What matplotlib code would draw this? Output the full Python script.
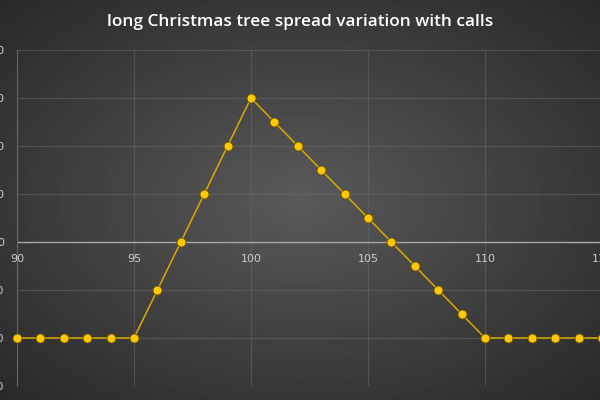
import numpy as np
import matplotlib.pyplot as plt

# underlying price at expiry
prices = [90, 91, 92, 93, 94, 95, 96, 97, 98, 99, 100, 101, 102,
          103, 104, 105, 106, 107, 108, 109, 110, 111, 112, 113, 114, 115]
# payoff of the spread
payoff = [-200, -200, -200, -200, -200, -200, -100, 0, 100, 200, 300, 250, 200,
          150, 100, 50, 0, -50, -100, -150, -200, -200, -200, -200, -200, -200]

x_ticks = [90, 95, 100, 105, 110, 115]
y_ticks = [-300, -200, -100, 0, 100, 200, 300, 400]

fig = plt.figure(figsize=(6, 4), dpi=100)

# radial gradient background
bg = fig.add_axes([0, 0, 1, 1])
gx, gy = np.meshgrid(np.linspace(-1, 1, 300), np.linspace(-1, 1, 200))
r = np.sqrt(gx**2 + gy**2) / np.sqrt(2)
bg.imshow(0.35 - 0.19 * r, cmap='gray', vmin=0, vmax=1, aspect='auto', extent=[0, 1, 0, 1])
bg.axis('off')

ax = fig.add_axes([17/600, 14/400, 585/600, 336/400])
ax.patch.set_alpha(0)
ax.plot(prices, payoff, color='#d8aa00', lw=1.1, marker='o', ms=6.5,
        mfc='#ffc800', mec='#6b5510', mew=0.7, zorder=3, clip_on=False)

ax.set_xlim(90, 115)
ax.set_ylim(-300, 400)
ax.set_xticks(x_ticks)
ax.set_yticks(y_ticks)
ax.grid(True, color='#707070', lw=0.8, alpha=0.45)
ax.axhline(0, color='#a8a8a8', lw=1.0, zorder=2)

for s in ['top', 'right', 'bottom']:
    ax.spines[s].set_visible(False)
ax.spines['left'].set_color('#666666')

ax.tick_params(length=0, colors='#cccccc', labelsize=8)
ax.tick_params(axis='y', pad=9)
# x labels sit just below the zero line
ax.set_xticklabels([])
for xv in x_ticks:
    ax.annotate(str(xv), (xv, 0), xytext=(0, -9), textcoords='offset points',
                ha='center', va='top', color='#cccccc', fontsize=8)

fig.text(0.5, 0.945, 'long Christmas tree spread variation with calls',
         ha='center', va='center', color='white', fontsize=12.4,
         fontweight='semibold', family='Open Sans')

fig.savefig('out.png', dpi=100)
